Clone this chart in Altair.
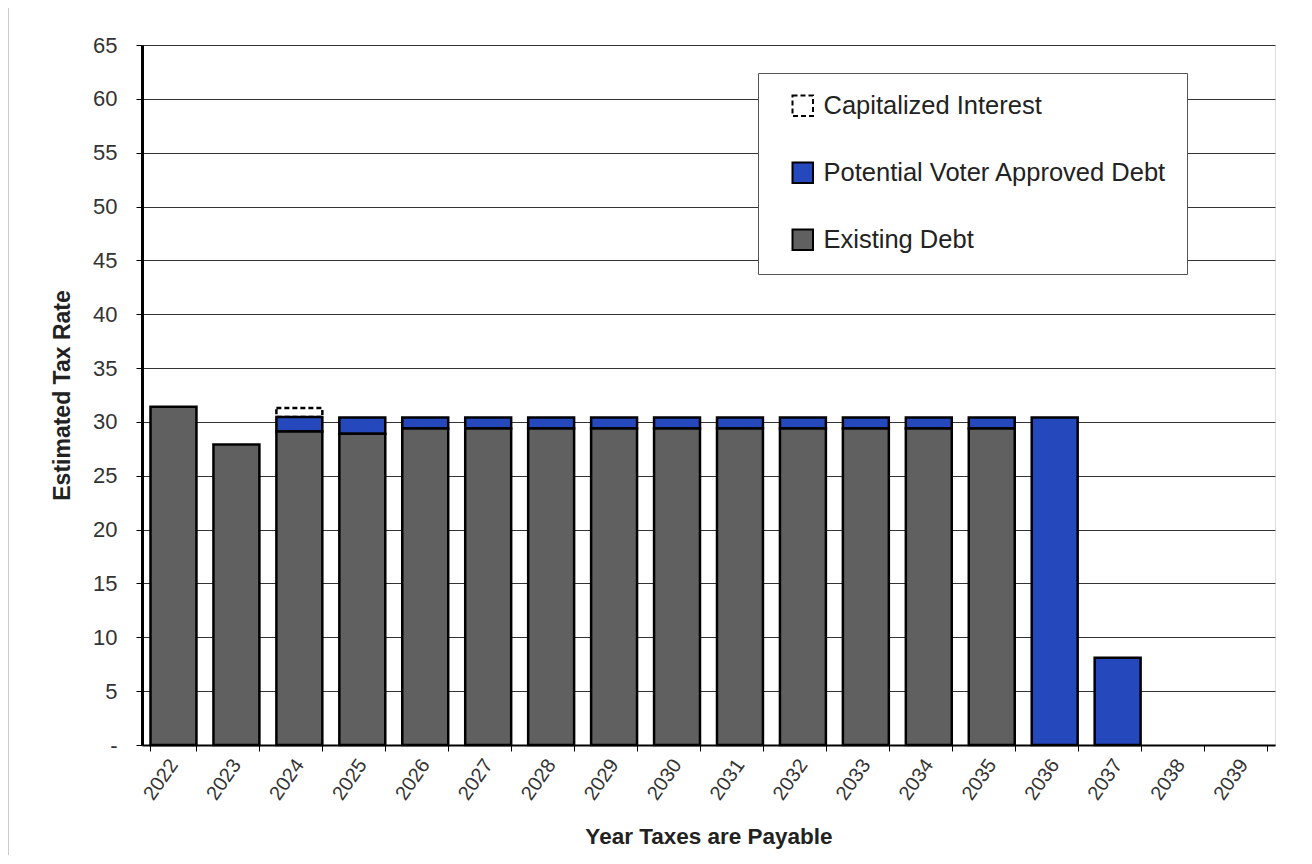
import altair as alt
import pandas as pd

years = ["2022", "2023", "2024", "2025", "2026", "2027", "2028", "2029", "2030",
         "2031", "2032", "2033", "2034", "2035", "2036", "2037", "2038", "2039"]
existing_debt = [31.4, 27.9, 29.1, 28.9, 29.4, 29.4, 29.4, 29.4, 29.4,
                 29.4, 29.4, 29.4, 29.4, 29.4, 0, 0, 0, 0]
voter_debt = [0, 0, 1.35, 1.5, 1.0, 1.0, 1.0, 1.0, 1.0,
              1.0, 1.0, 1.0, 1.0, 1.0, 30.4, 8.1, 0, 0]
capitalized = [0, 0, 0.85, 0, 0, 0, 0, 0, 0,
               0, 0, 0, 0, 0, 0, 0, 0, 0]

series_names = ["Capitalized Interest", "Potential Voter Approved Debt", "Existing Debt"]
series_fill = ["#ffffff", "#2548bd", "#606060"]
series_dash = [[5, 3], [1, 0], [1, 0]]
stack_order = {"Existing Debt": 0, "Potential Voter Approved Debt": 1, "Capitalized Interest": 2}

rows = []
for i, y in enumerate(years):
    for name, vals in zip(series_names, [capitalized, voter_debt, existing_debt]):
        rows.append({"year": y, "series": name, "value": vals[i], "ord": stack_order[name]})
df = pd.DataFrame(rows)
df = df[df["value"] > 0]

font = "Liberation Sans"

bars = alt.Chart(df).mark_bar(stroke="black", strokeWidth=2.5).encode(
    x=alt.X("year:N", sort=years,
            scale=alt.Scale(domain=years, paddingInner=0.27, paddingOuter=0.135),
            axis=alt.Axis(title="Year Taxes are Payable", labelAngle=-55, labelFontSize=20,
                          labelColor="#333333", titleFontSize=22.5, titleFontWeight="bold",
                          titleColor="#222222", tickBand="extent", tickSize=6, tickColor="black",
                          domainColor="black", domainWidth=2, labelPadding=10, titlePadding=22,
                          labelAlign="right", labelBaseline="middle")),
    y=alt.Y("value:Q", stack="zero",
            scale=alt.Scale(domain=[0, 65], nice=False),
            axis=alt.Axis(title="Estimated Tax Rate", values=list(range(0, 70, 5)),
                          labelExpr="datum.value == 0 ? '-' : datum.label",
                          labelFontSize=22, labelColor="#333333", titleFontSize=23,
                          titleFontWeight="bold", titleColor="#222222", tickSize=6,
                          tickColor="black", domainColor="black", domainWidth=3,
                          labelPadding=19, titlePadding=18, gridColor="#333333",
                          gridWidth=1)),
    fill=alt.Fill("series:N", scale=alt.Scale(domain=series_names, range=series_fill),
                  legend=alt.Legend(title=None, orient="none", legendX=616, legendY=28,
                                    fillColor="white", strokeColor="#555555", padding=20,
                                    labelFontSize=25.5, labelColor="#222222", symbolType="square",
                                    symbolSize=420, symbolStrokeColor="black",
                                    symbolStrokeWidth=2, rowPadding=38, labelOffset=8,
                                    symbolOffset=12, labelLimit=600)),
    strokeDash=alt.StrokeDash("series:N", scale=alt.Scale(domain=series_names, range=series_dash),
                              legend=alt.Legend(title=None)),
    order=alt.Order("ord:Q"),
)

frame = alt.Chart(pd.DataFrame({"a": [0]})).mark_rect(
    fill=None, stroke="#bbbbbb", strokeWidth=1.5, clip=False
).encode(
    x=alt.value(-134), x2=alt.value(1163), y=alt.value(-40), y2=alt.value(815)
)

chart = alt.layer(frame, bars).properties(
    width=1133, height=700,
    autosize=alt.AutoSizeParams(type="none"),
    padding={"left": 134, "top": 37, "right": 20, "bottom": 110},
).configure_view(
    stroke="black", strokeWidth=2
).configure(font=font)

chart.save("out.html", embed_options={"renderer": "svg", "actions": False})
